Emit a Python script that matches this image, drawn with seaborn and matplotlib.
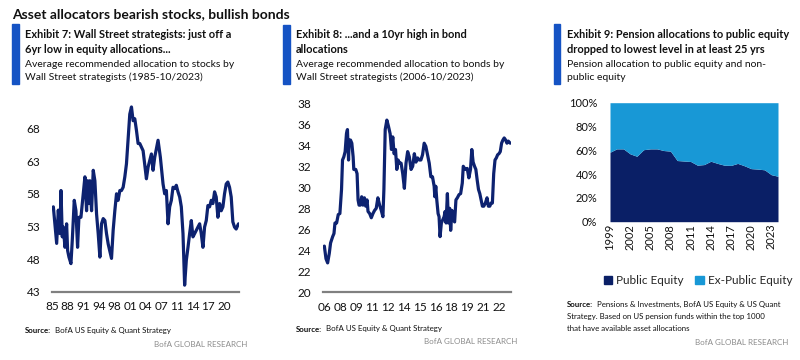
import matplotlib
matplotlib.use("Agg")
import matplotlib.pyplot as plt
from matplotlib.patches import Rectangle, Patch
import numpy as np
import seaborn as sns

# ---- Exhibit 7: average recommended allocation to stocks (1985-10/2023) ----
eq_year = [1985.28, 1985.97, 1986.31, 1986.66, 1986.87, 1987.14, 1987.35, 1987.70, 1988.04, 1988.25,
           1988.53, 1988.94, 1989.22, 1989.63, 1989.98, 1990.32, 1990.60, 1991.02, 1991.50, 1991.85,
           1992.19, 1992.40, 1992.68, 1992.88, 1993.23, 1993.58, 1993.92, 1994.27, 1994.61, 1994.96,
           1995.30, 1995.65, 1996.00, 1996.34, 1996.69, 1997.38, 1997.72, 1998.07, 1998.42, 1998.76,
           1999.11, 1999.45, 1999.80, 2000.15, 2000.49, 2001.18, 2001.53, 2001.87, 2002.22, 2002.57,
           2002.91, 2003.26, 2003.95, 2004.64, 2004.99, 2005.68, 2006.02, 2006.37, 2007.06, 2007.54,
           2008.10, 2008.44, 2008.79, 2009.14, 2009.48, 2009.83, 2010.17, 2010.52, 2010.86, 2011.21,
           2011.56, 2011.90, 2012.25, 2012.59, 2012.94, 2013.29, 2013.63, 2013.98, 2014.32, 2014.67,
           2015.36, 2015.71, 2016.05, 2016.40, 2016.74, 2017.09, 2017.43, 2017.78, 2018.13, 2018.47,
           2018.82, 2019.16, 2019.51, 2019.86, 2020.20, 2020.55, 2020.89, 2021.24, 2021.58, 2021.93,
           2022.28, 2022.62, 2022.97, 2023.31, 2023.66, 2023.80]
eq_val = [56.0, 50.4, 55.5, 51.9, 58.5, 51.4, 52.9, 49.8, 53.4, 49.3,
          48.3, 47.3, 50.9, 57.0, 55.4, 49.8, 54.4, 54.4, 58.0, 60.6,
          55.4, 60.0, 56.5, 60.0, 55.4, 61.6, 60.0, 54.9, 51.9, 48.3,
          53.4, 54.2, 53.9, 51.9, 50.3, 48.1, 52.4, 55.4, 58.0, 57.0,
          58.5, 58.5, 59.0, 60.6, 62.6, 70.2, 71.3, 69.2, 69.5, 67.7,
          65.7, 65.7, 64.6, 60.3, 62.1, 64.1, 61.6, 63.6, 66.2, 63.6,
          59.5, 58.0, 58.5, 53.4, 56.0, 57.0, 59.0, 58.8, 59.3, 58.3,
          57.5, 56.0, 51.9, 44.0, 47.8, 49.8, 51.9, 53.9, 51.4, 51.9,
          52.9, 53.4, 51.9, 49.8, 52.9, 53.9, 56.2, 56.0, 57.0, 56.5,
          58.3, 57.5, 54.4, 56.5, 55.4, 56.0, 58.0, 59.5, 59.8, 59.0,
          57.5, 53.7, 52.9, 52.6, 53.2, 53.4]
eq_yticks = [43, 48, 53, 58, 63, 68]
eq_xlabels = ["85", "88", "91", "94", "98", "01", "04", "07", "11", "14", "17", "20"]

# ---- Exhibit 8: average recommended allocation to bonds (2006-10/2023) ----
bd_year = [2006.75, 2006.90, 2007.05, 2007.20, 2007.32, 2007.51, 2007.63, 2007.72, 2007.87, 2008.02,
           2008.17, 2008.32, 2008.41, 2008.53, 2008.65, 2008.77, 2008.86, 2008.96, 2009.02, 2009.14,
           2009.26, 2009.38, 2009.44, 2009.62, 2009.74, 2009.83, 2009.92, 2010.04, 2010.16, 2010.28,
           2010.41, 2010.53, 2010.65, 2010.74, 2010.89, 2011.04, 2011.19, 2011.34, 2011.49, 2011.64,
           2011.80, 2011.95, 2012.10, 2012.19, 2012.31, 2012.46, 2012.61, 2012.76, 2012.88, 2013.00,
           2013.12, 2013.25, 2013.37, 2013.49, 2013.61, 2013.76, 2013.91, 2014.06, 2014.21, 2014.36,
           2014.51, 2014.67, 2014.82, 2014.97, 2015.12, 2015.27, 2015.42, 2015.57, 2015.72, 2015.87,
           2016.02, 2016.18, 2016.33, 2016.48, 2016.63, 2016.78, 2016.84, 2016.93, 2017.02, 2017.14,
           2017.23, 2017.32, 2017.44, 2017.57, 2017.69, 2017.78, 2017.87, 2017.99, 2018.08, 2018.20,
           2018.29, 2018.41, 2018.53, 2018.65, 2018.77, 2018.90, 2019.05, 2019.20, 2019.35, 2019.44,
           2019.56, 2019.68, 2019.80, 2019.95, 2020.10, 2020.22, 2020.34, 2020.47, 2020.59, 2020.71,
           2020.83, 2020.95, 2021.07, 2021.19, 2021.31, 2021.46, 2021.61, 2021.73, 2021.86, 2021.98,
           2022.10, 2022.22, 2022.34, 2022.46, 2022.58, 2022.70, 2022.82, 2022.94, 2023.06, 2023.18,
           2023.31, 2023.43, 2023.55, 2023.73]
bd_val = [24.4, 23.2, 22.8, 23.7, 24.7, 25.3, 25.6, 26.6, 26.6, 27.4,
          27.5, 29.8, 32.6, 32.9, 33.4, 35.1, 35.5, 32.6, 34.5, 34.5,
          34.2, 32.9, 31.7, 31.7, 31.3, 28.8, 28.3, 28.3, 29.1, 28.3,
          29.0, 28.2, 28.8, 27.7, 27.5, 27.1, 27.5, 27.8, 28.0, 29.0,
          28.3, 27.8, 27.2, 29.8, 35.5, 36.4, 35.8, 35.1, 33.6, 34.8,
          33.2, 33.6, 31.7, 32.6, 32.3, 32.3, 31.3, 29.9, 32.3, 33.4,
          32.9, 31.7, 32.0, 33.2, 32.4, 32.8, 32.6, 32.6, 33.1, 34.2,
          33.9, 33.1, 32.3, 31.0, 31.0, 30.1, 29.1, 30.1, 28.8, 27.5,
          27.2, 25.3, 26.6, 26.9, 27.2, 27.7, 26.6, 29.4, 26.6, 28.0,
          25.9, 27.8, 26.9, 26.7, 28.8, 29.0, 29.3, 29.4, 30.4, 32.0,
          31.8, 31.7, 31.8, 30.9, 31.7, 33.6, 32.4, 32.0, 31.7, 30.7,
          29.8, 29.4, 28.8, 28.2, 28.2, 28.5, 29.0, 28.2, 28.2, 28.5,
          28.5, 31.3, 32.6, 32.8, 33.1, 33.2, 33.4, 34.2, 34.5, 34.7,
          34.5, 34.2, 34.4, 34.2]
bd_yticks = [20, 22, 24, 26, 28, 30, 32, 34, 36, 38]
bd_xlabels = ["06", "08", "09", "11", "12", "14", "15", "16", "18", "19", "21", "22"]

# ---- Exhibit 9: pension allocation to public equity (%) ----
pen_year = list(range(1999, 2025))
pub_eq = [58.4, 61.2, 61.2, 57.0, 55.0, 60.5, 61.2, 61.2, 59.8, 59.3,
          51.4, 51.0, 50.6, 47.5, 48.0, 50.8, 49.0, 47.5, 47.3, 49.0,
          47.0, 44.6, 44.2, 43.6, 39.5, 38.2]
ex_pub = [100 - v for v in pub_eq]
pen_yticks = [0, 20, 40, 60, 80, 100]
pen_xticks = list(range(1999, 2024, 3))

sns.set_theme(style="white")
plt.rcParams["font.family"] = ["Lato", "DejaVu Sans"]

W, H = 800, 360
NAVY = "#0d2270"
AREA_DARK = "#0a1f66"
AREA_LIGHT = "#1898d6"
BAR_BLUE = "#1553c4"
AXIS_GREY = "#808080"
TXT = "#111111"

fig = plt.figure(figsize=(8, 3.6), dpi=100)


def fx(x):
    return x / W


def fy(y):
    return 1 - y / H


def rect(l, t, r, b):
    return [l / W, 1 - b / H, (r - l) / W, (b - t) / H]


def header(x_bar, x_text, bar_top, bar_bot, title_lines, sub_lines):
    fig.patches.append(Rectangle((fx(x_bar), fy(bar_bot)), 6.5 / W, (bar_bot - bar_top) / H,
                                 transform=fig.transFigure, color=BAR_BLUE))
    for y, s in zip((37.7, 52.8), title_lines):
        fig.text(fx(x_text), fy(y), s, fontsize=7.9, fontweight="bold", va="baseline", color=TXT)
    for y, s in zip((66.7, 79.8), sub_lines):
        fig.text(fx(x_text), fy(y), s, fontsize=7.5, va="baseline", color=TXT)


def source(x, y, rest):
    fig.text(fx(x), fy(y), "Source:", fontsize=5.7, fontweight="bold", va="baseline", color=TXT)
    fig.text(fx(x + 30), fy(y), rest, fontsize=5.7, va="baseline", color=TXT)


def brand(x_right, y):
    fig.text(fx(x_right), fy(y), "BofA GLOBAL RESEARCH", fontsize=5.8, ha="right",
             va="baseline", color="#8c8c8c")


def style_line_axes(ax):
    for side in ("left", "top", "right"):
        ax.spines[side].set_visible(False)
    ax.spines["bottom"].set_color(AXIS_GREY)
    ax.spines["bottom"].set_linewidth(1.6)
    ax.tick_params(length=0, labelsize=8.5, labelcolor=TXT)
    ax.tick_params(axis="y", pad=8.5)
    ax.tick_params(axis="x", pad=7)
    ax.set_xlabel("")
    ax.set_ylabel("")
    ax.patch.set_alpha(0)


# main headline
fig.text(fx(12), fy(18.5), "Asset allocators bearish stocks, bullish bonds",
         fontsize=10, fontweight="bold", va="baseline", color=TXT)

# Exhibit 7
header(12, 25, 24, 84,
       ["Exhibit 7: Wall Street strategists: just off a", "6yr low in equity allocations..."],
       ["Average recommended allocation to stocks by", "Wall Street strategists (1985-10/2023)"])
ax1 = fig.add_axes(rect(52, 102.4, 239, 291.7))
sns.lineplot(x=eq_year, y=eq_val, ax=ax1, color=NAVY, linewidth=2.3)
ax1.set_xlim(1985, 2023.9)
ax1.set_ylim(43, 72)
ax1.set_yticks(eq_yticks)
ax1.set_xticks(1985 + 3.25 * np.arange(len(eq_xlabels)))
ax1.set_xticklabels(eq_xlabels)
style_line_axes(ax1)
source(25, 333, "BofA US Equity & Quant Strategy")
brand(247, 347)

# Exhibit 8
header(283, 296, 25, 83.5,
       ["Exhibit 8: ...and a 10yr high in bond", "allocations"],
       ["Average recommended allocation to bonds by", "Wall Street strategists (2006-10/2023)"])
ax2 = fig.add_axes(rect(322.7, 103.3, 511, 292.3))
sns.lineplot(x=bd_year, y=bd_val, ax=ax2, color=NAVY, linewidth=2.3)
ax2.set_xlim(2006.6, 2023.8)
ax2.set_ylim(20, 38)
ax2.set_yticks(bd_yticks)
ax2.set_xticks(2006.75 + 1.45 * np.arange(len(bd_xlabels)))
ax2.set_xticklabels(bd_xlabels)
style_line_axes(ax2)
source(296, 331.5, "BofA US Equity & Quant Strategy")
brand(517, 344)

# Exhibit 9
header(553.5, 567, 24, 83.5,
       ["Exhibit 9: Pension allocations to public equity", "dropped to lowest level in at least 25 yrs"],
       ["Pension allocation to public equity and non-", "public equity"])
ax3 = fig.add_axes(rect(610, 102.7, 778, 221.7))
ax3.stackplot(pen_year, pub_eq, ex_pub, colors=[AREA_DARK, AREA_LIGHT], linewidth=0)
ax3.set_xlim(1999, 2024)
ax3.set_ylim(0, 100)
ax3.set_yticks(pen_yticks)
ax3.set_yticklabels([f"{v}%" for v in pen_yticks])
ax3.set_xticks(pen_xticks)
ax3.set_xticklabels([str(y) for y in pen_xticks], rotation=90)
for side in ax3.spines:
    ax3.spines[side].set_visible(False)
ax3.tick_params(length=0, labelsize=8, labelcolor=TXT)
ax3.tick_params(axis="y", pad=9)
ax3.tick_params(axis="x", pad=1.5)
ax3.legend(handles=[Patch(color=AREA_DARK, label="Public Equity"),
                    Patch(color=AREA_LIGHT, label="Ex-Public Equity")],
           loc="center", bbox_to_anchor=(fx(698), fy(280.7)), bbox_transform=fig.transFigure,
           ncol=2, frameon=False, fontsize=8.5, handlelength=0.7, handleheight=0.7,
           handletextpad=0.35, columnspacing=1.0, borderpad=0)
source(567, 307.3, "Pensions & Investments, BofA US Equity & US Quant")
fig.text(fx(567), fy(319), "Strategy. Based on US pension funds within the top 1000",
         fontsize=5.7, va="baseline", color=TXT)
fig.text(fx(567), fy(330.7), "that have available asset allocations",
         fontsize=5.7, va="baseline", color=TXT)
brand(788, 345)

fig.savefig("out.png", dpi=100)
